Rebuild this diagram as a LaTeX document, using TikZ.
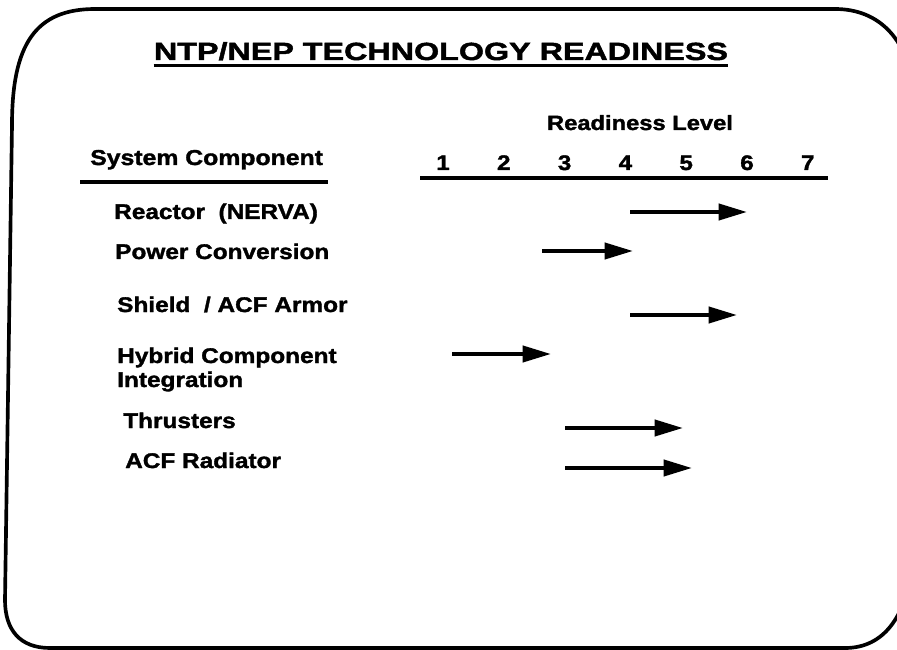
\documentclass[tikz,border=0pt]{standalone}
\usepackage{fontspec}
\setmainfont{Liberation Sans}[FakeStretch=1.15, FakeBold=1.6]
\newfontfamily\titlefont{Liberation Sans}[FakeStretch=1.3, FakeBold=1.8]
\usetikzlibrary{arrows.meta}
\usetikzlibrary{calc}

\begin{document}
\begin{tikzpicture}[x=.3mm, y=-.3mm, font=\bfseries,
  >={Triangle[length=8.5mm, width=4.8mm]},
  rule/.style={line width=1mm},
  item/.style={anchor=base west, inner sep=0, font=\fontsize{18.1}{20}\selectfont\bfseries},
  num/.style={anchor=base, inner sep=0, font=\fontsize{18}{20}\selectfont\bfseries},
  level/.style={line width=1.2mm, ->}]
\useasboundingbox (0,0) rectangle (897,650);
% slide frame
\draw[line width=1.1mm] (12,125) .. controls (12,45) and (35,9) .. (95,9) -- (835,9)
  .. controls (880,9) and (905,40) .. (912,80) -- (912,570)
  .. controls (905,615) and (885,648) .. (845,648) -- (50,648)
  .. controls (20,648) and (5,630) .. (5,600) -- cycle;
\node[anchor=base, inner sep=0, font=\fontsize{21.2}{24}\titlefont\bfseries] (title) at (441,60) {NTP/NEP TECHNOLOGY READINESS};
\draw[line width=.9mm] ($(title.base west)+(0,6)$) -- ($(title.base east)+(0,6)$);
% headings
\node[item, font=\fontsize{18.4}{20}\selectfont\bfseries] (comp) at (90,165) {System Component};
\draw[rule] (80,182) -- (328,182);
\node[num, font=\fontsize{17.6}{20}\selectfont\bfseries] (rl) at (640,130) {Readiness Level};
\draw[rule] (420,178) -- (828,178);
\foreach \n in {1,...,7}
  \node[num] (lvl\n) at ({443+60.8*(\n-1)},170) {\n};
% components
\node[item] (reactor) at (114,219) {Reactor\ \ (NERVA)};
\node[item] (power) at (115,259) {Power Conversion};
\node[item] (shield) at (117,312) {Shield\ \ / ACF Armor};
\node[item] (hybrid) at (117,363) {Hybrid Component};
\node[item] (integ) at (117,387) {Integration};
\node[item] (thrust) at (123,428) {Thrusters};
\node[item] (radiator) at (125,468) {ACF Radiator};
% readiness arrows
\foreach \nm/\xa/\xb/\y in {reactor/630/747/212, power/542/633/251, shield/630/737/315,
    hybrid/452/551/354, thrust/565/683/428, radiator/565/692/468} {
  \coordinate (\nm-s) at (\xa,\y);
  \coordinate (\nm-e) at (\xb,\y);
  \draw[level] (\nm-s) -- (\nm-e);
}
\end{tikzpicture}
\end{document}
